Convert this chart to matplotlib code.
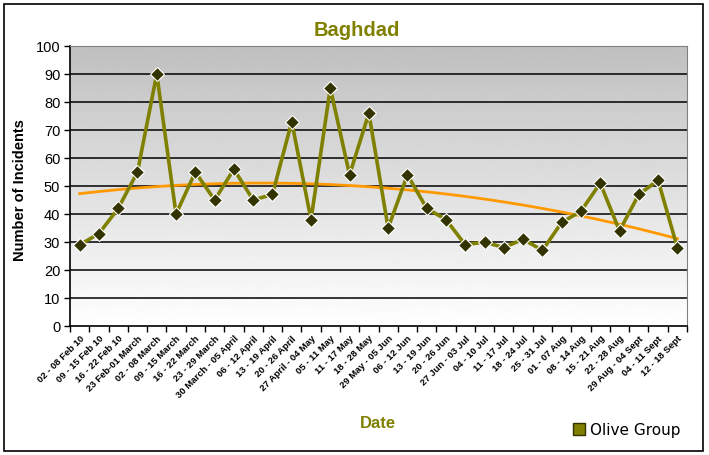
import numpy as np
import matplotlib.pyplot as plt
from matplotlib.lines import Line2D
from matplotlib.patches import Rectangle

weeks = ["02 - 08 Feb 10", "09 - 15 Feb 10", "16 - 22 Feb 10", "23 Feb-01 March",
         "02 - 08 March", "09 - 15 March", "16 - 22 March", "23 - 29 March",
         "30 March - 05 April", "06 - 12 April", "13 - 19 April", "20 - 26 April",
         "27 April - 04 May", "05 - 11 May", "11 - 17 May", "18 - 28 May",
         "29 May - 05 Jun", "06 - 12 Jun", "13 - 19 Jun", "20 - 26 Jun",
         "27 Jun - 03 Jul", "04 - 10 Jul", "11 - 17 Jul", "18 - 24 Jul",
         "25 - 31 Jul", "01 - 07 Aug", "08 - 14 Aug", "15 - 21 Aug",
         "22 - 28 Aug", "29 Aug - 04 Sept", "04 - 11 Sept", "12 - 18 Sept"]
incidents = [29, 33, 42, 55, 90, 40, 55, 45, 56, 45, 47, 73, 38, 85, 54, 76,
             35, 54, 42, 38, 29, 30, 28, 31, 27, 37, 41, 51, 34, 47, 52, 28]
y_ticks = list(range(0, 101, 10))

olive = "#808000"
plt.rcParams['font.family'] = ['Liberation Sans', 'DejaVu Sans']

fig = plt.figure(figsize=(7.09, 4.55), dpi=100)
W, H = 709, 455
ax = fig.add_axes([70 / W, (H - 326) / H, (687 - 70) / W, (326 - 46) / H])

x = np.arange(1, len(incidents) + 1)

# grey at the top fading to white at the bottom
grad = np.linspace(0.75, 1.0, 256).reshape(-1, 1)
ax.imshow(grad, cmap='gray', vmin=0, vmax=1, aspect='auto', origin='upper',
          extent=[0.5, len(x) + 0.5, 0, 100], zorder=0)

for yv in y_ticks[1:-1]:
    ax.axhline(yv, color='black', lw=1.1, zorder=1)

# polynomial trend line (order 2), like Excel
coef = np.polyfit(x, incidents, 2)
ax.plot(x, np.polyval(coef, x), color='#FF9900', lw=2, zorder=2)

ax.plot(x, incidents, color=olive, lw=2.6, zorder=3)
ax.plot(x, incidents, ls='none', marker='D', ms=7, mfc='#333300',
        mec='white', mew=0.8, zorder=4)

ax.set_xlim(0.5, len(x) + 0.5)
ax.set_ylim(0, 100)
ax.set_yticks(y_ticks)
ax.tick_params(axis='y', labelsize=10.5, length=4, width=1, direction='out',
               color='black', pad=3)
ax.set_xticks(x)
ax.set_xticklabels(weeks, rotation=45, ha='right', rotation_mode='anchor',
                   fontsize=6.8, fontweight='bold')
ax.tick_params(axis='x', length=0, pad=6)
ax.set_xticks(np.arange(0.5, len(x) + 1), minor=True)
ax.tick_params(axis='x', which='minor', length=4, width=1, color='black')

for s in ['top', 'right']:
    ax.spines[s].set_color('#808080')
for s in ['left', 'bottom']:
    ax.spines[s].set_color('black')
    ax.spines[s].set_linewidth(1.2)

fig.text(357 / W, 1 - 30 / H, "Baghdad", color=olive, fontsize=14.5,
         fontweight='bold', ha='center', va='center')
fig.text(20 / W, 1 - 190 / H, "Number of Incidents", rotation=90,
         fontsize=10.5, fontweight='bold', ha='center', va='center')
fig.text(378 / W, 1 - 424 / H, "Date", color=olive, fontsize=12,
         fontweight='bold', ha='center', va='center')

handle = Line2D([], [], ls='none', marker='s', ms=8, mfc=olive, mec='#333300')
fig.legend([handle], ["Olive Group"], loc='center', frameon=False,
           bbox_to_anchor=(626 / W, 1 - 430 / H),
           prop={'family': 'DejaVu Sans', 'size': 11},
           handletextpad=0.2, handlelength=1)

fig.add_artist(Rectangle((4 / W, 4 / H), 699 / W, 447 / H, fill=False,
                         edgecolor='black', lw=1.2, transform=fig.transFigure))

fig.savefig("out.png", dpi=100)
